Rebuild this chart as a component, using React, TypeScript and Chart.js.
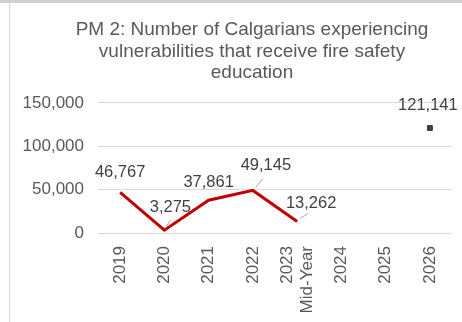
import React, { useEffect, useRef } from "react";
import { Chart, registerables } from "chart.js";

Chart.register(...registerables);

const categories: (string | string[])[] = ["2019", "2020", "2021", "2022", ["2023", "Mid-Year"], "2024", "2025", "2026"];
const actualValues: (number | null)[] = [46767, 3275, 37861, 49145, 13262, null, null, null];
const targetValues: (number | null)[] = [null, null, null, null, null, null, null, 121141];
const titleLines = ["PM 2: Number of Calgarians experiencing", "vulnerabilities that receive fire safety", "education"];

const actualLabelOffsets = [
  [0, -20],
  [6, -23],
  [0, -18],
  [13, -25],
  [14, -18],
];
const targetLabelOffset = [-2, -23];
const leaderLines: Record<number, number[]> = {
  1: [2, -4, 6, -10],
  3: [3, -3, 10, -12],
  4: [3, -3, 11, -8],
};

const FONT = "'Liberation Sans', Arial, sans-serif";

const labelPlugin = {
  id: "valueLabels",
  afterLayout(chart: any) {
    if (chart.titleBlock) chart.titleBlock.left = 52;
  },
  beforeDraw(chart: any) {
    const s = chart.scales.x;
    const items = s.getLabelItems();
    if (!items._centered) {
      items.forEach((it: any) => {
        if (Array.isArray(it.label) && it.label.length > 1) {
          it.options.translation[0] -= (it.font.lineHeight * (it.label.length - 1)) / 2;
        }
      });
      items._centered = true;
    }
  },
  afterDatasetsDraw(chart: any) {
    const ctx = chart.ctx;
    ctx.save();
    ctx.font = `16.5px ${FONT}`;
    ctx.fillStyle = "#404040";
    ctx.textAlign = "center";
    ctx.textBaseline = "middle";
    chart.data.datasets.forEach((ds: any, di: number) => {
      const meta = chart.getDatasetMeta(di);
      meta.data.forEach((pt: any, i: number) => {
        const v = ds.data[i];
        if (v === null || v === undefined) return;
        let dx = targetLabelOffset[0];
        let dy = targetLabelOffset[1];
        if (di === 0) {
          dx = actualLabelOffsets[i][0];
          dy = actualLabelOffsets[i][1];
          const ll = leaderLines[i];
          if (ll) {
            ctx.strokeStyle = "#a6a6a6";
            ctx.lineWidth = 1;
            ctx.beginPath();
            ctx.moveTo(pt.x + ll[0], pt.y + ll[1]);
            ctx.lineTo(pt.x + ll[2], pt.y + ll[3]);
            ctx.stroke();
          }
        }
        ctx.fillText(v.toLocaleString("en-US"), pt.x + dx, pt.y + dy);
      });
    });
    ctx.restore();
  },
};

export default function App() {
  const ref = useRef<HTMLCanvasElement>(null);
  useEffect(() => {
    if (!ref.current) return;
    const chart = new Chart(ref.current, {
      type: "line",
      data: {
        labels: categories,
        datasets: [
          {
            data: actualValues,
            borderColor: "#C00000",
            borderWidth: 3,
            pointRadius: 0,
            tension: 0,
            spanGaps: false,
          },
          {
            data: targetValues,
            borderColor: "#404040",
            backgroundColor: "#404040",
            pointStyle: "rect",
            pointRadius: 3.5,
            showLine: false,
          },
        ],
      },
      options: {
        responsive: true,
        maintainAspectRatio: false,
        animation: false,
        layout: { padding: { left: 0, right: 10, top: 0, bottom: 0 } },
        plugins: {
          legend: { display: false },
          tooltip: { enabled: false },
          title: {
            display: true,
            text: titleLines,
            color: "#595959",
            font: { family: FONT, size: 19, weight: "normal", lineHeight: 1.14 },
            padding: { top: 19, bottom: 19 },
          },
        },
        scales: {
          x: {
            offset: true,
            grid: { display: false },
            border: { display: false },
            ticks: {
              color: "#595959",
              font: { family: FONT, size: 17 },
              minRotation: 90,
              maxRotation: 90,
              padding: 5,
              autoSkip: false,
            },
            afterFit: (scale: any) => {
              scale.height = 89;
            },
          },
          y: {
            min: 0,
            max: 150000,
            grid: { color: "#d9d9d9", drawTicks: false },
            border: { display: false },
            ticks: {
              stepSize: 50000,
              color: "#595959",
              font: { family: FONT, size: 17 },
              padding: 14,
              callback: (v: any) => Number(v).toLocaleString("en-US"),
            },
            afterFit: (scale: any) => {
              scale.width = 98;
            },
          },
        },
      },
      plugins: [labelPlugin],
    });
    return () => chart.destroy();
  }, []);
  return (
    <div style={{ position: "absolute", left: 0, top: 0, width: 462, height: 322, background: "#fff", overflow: "hidden" }}>
      <div style={{ position: "absolute", left: 0, top: 0, width: 462, height: 3, background: "#d0d0d0" }} />
      <div style={{ position: "absolute", left: 9, top: 3, width: 1, height: 319, background: "#d9d9d9" }} />
      <div style={{ position: "absolute", left: 0, top: 0, width: 462, height: 322 }}>
        <canvas ref={ref} />
      </div>
    </div>
  );
}
